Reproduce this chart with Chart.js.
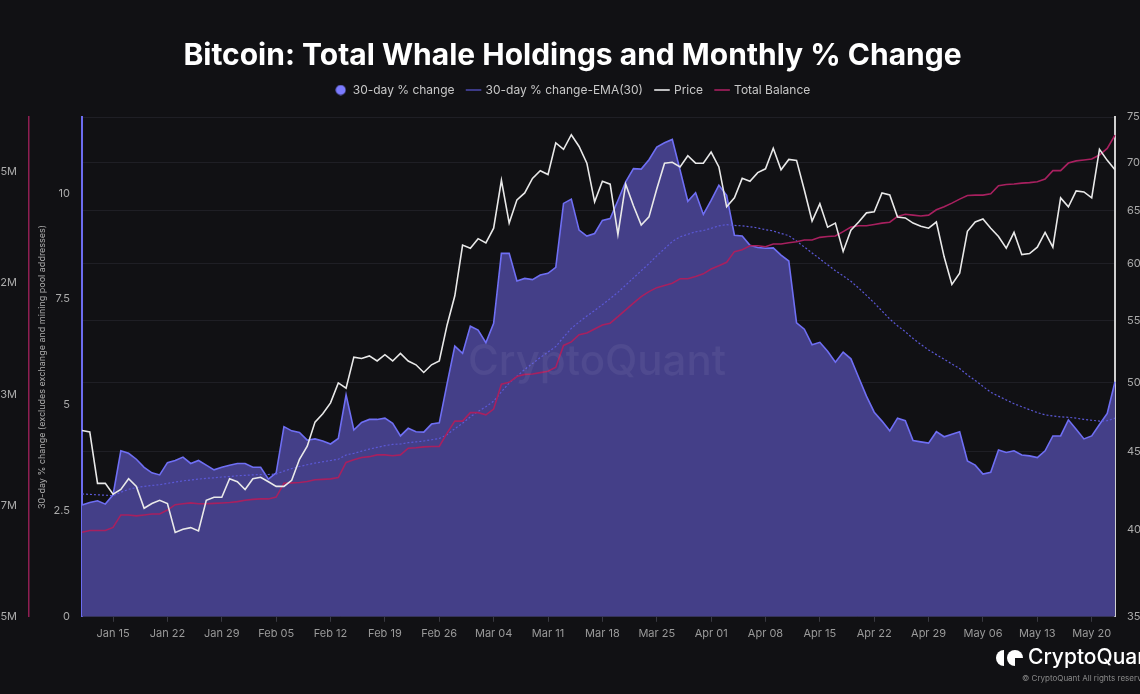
<!DOCTYPE html>
<html><head><meta charset="utf-8">
<script src="https://cdn.jsdelivr.net/npm/chart.js@4.4.1/dist/chart.umd.min.js"></script>
<style>
html,body{margin:0;padding:0;background:#111114;overflow:hidden;width:1140px;height:694px;}
#wrap{position:absolute;left:-30px;top:0;width:1200px;height:694px;}
</style></head><body>
<div id="wrap"><canvas id="c" width="1200" height="694"></canvas></div>
<script>
const OFF = 30;
const categories = [
"Jan 11","Jan 12","Jan 13","Jan 14","Jan 15","Jan 16","Jan 17","Jan 18","Jan 19","Jan 20","Jan 21","Jan 22","Jan 23","Jan 24","Jan 25","Jan 26","Jan 27","Jan 28","Jan 29","Jan 30","Jan 31",
"Feb 01","Feb 02","Feb 03","Feb 04","Feb 05","Feb 06","Feb 07","Feb 08","Feb 09","Feb 10","Feb 11","Feb 12","Feb 13","Feb 14","Feb 15","Feb 16","Feb 17","Feb 18","Feb 19","Feb 20","Feb 21","Feb 22","Feb 23","Feb 24","Feb 25","Feb 26","Feb 27","Feb 28","Feb 29",
"Mar 01","Mar 02","Mar 03","Mar 04","Mar 05","Mar 06","Mar 07","Mar 08","Mar 09","Mar 10","Mar 11","Mar 12","Mar 13","Mar 14","Mar 15","Mar 16","Mar 17","Mar 18","Mar 19","Mar 20","Mar 21","Mar 22","Mar 23","Mar 24","Mar 25","Mar 26","Mar 27","Mar 28","Mar 29","Mar 30","Mar 31",
"Apr 01","Apr 02","Apr 03","Apr 04","Apr 05","Apr 06","Apr 07","Apr 08","Apr 09","Apr 10","Apr 11","Apr 12","Apr 13","Apr 14","Apr 15","Apr 16","Apr 17","Apr 18","Apr 19","Apr 20","Apr 21","Apr 22","Apr 23","Apr 24","Apr 25","Apr 26","Apr 27","Apr 28","Apr 29","Apr 30",
"May 01","May 02","May 03","May 04","May 05","May 06","May 07","May 08","May 09","May 10","May 11","May 12","May 13","May 14","May 15","May 16","May 17","May 18","May 19","May 20","May 21","May 22","May 23"];
const weekTicks = ["Jan 15","Jan 22","Jan 29","Feb 05","Feb 12","Feb 19","Feb 26","Mar 04","Mar 11","Mar 18","Mar 25","Apr 01","Apr 08","Apr 15","Apr 22","Apr 29","May 06","May 13","May 20"];

const pctChange = [
2.64,2.70,2.74,2.66,2.88,3.92,3.86,3.72,3.53,3.40,
3.35,3.64,3.69,3.77,3.62,3.69,3.58,3.47,3.53,3.58,
3.62,3.62,3.53,3.53,3.25,3.40,4.49,4.39,4.35,4.17,
4.20,4.15,4.08,4.21,5.24,4.41,4.59,4.66,4.66,4.69,
4.57,4.27,4.45,4.37,4.36,4.55,4.58,5.50,6.39,6.22,
6.86,6.77,6.47,6.93,8.58,8.58,7.93,7.99,7.96,8.07,
8.11,8.25,9.76,9.86,9.13,8.99,9.05,9.36,9.40,9.83,
10.27,10.58,10.57,10.79,11.09,11.19,11.27,10.55,9.81,10.01,
9.50,9.83,10.19,9.95,9.01,8.99,8.77,8.72,8.70,8.71,
8.54,8.40,6.94,6.79,6.42,6.48,6.27,6.01,6.25,6.09,
5.65,5.21,4.83,4.62,4.39,4.69,4.63,4.16,4.13,4.10,
4.37,4.25,4.31,4.37,3.68,3.58,3.37,3.41,3.94,3.88,
3.92,3.82,3.80,3.76,3.92,4.27,4.27,4.65,4.43,4.20,
4.27,4.54,4.80,5.55];

const pctEma30 = [
2.90,2.89,2.88,2.87,2.86,2.94,3.01,3.05,3.08,3.10,
3.12,3.15,3.18,3.21,3.23,3.25,3.27,3.28,3.30,3.31,
3.33,3.34,3.35,3.36,3.36,3.37,3.44,3.50,3.55,3.59,
3.63,3.66,3.69,3.72,3.82,3.86,3.91,3.96,4.00,4.04,
4.07,4.08,4.11,4.13,4.15,4.18,4.21,4.30,4.44,4.57,
4.72,4.85,4.96,5.09,5.31,5.52,5.68,5.84,5.98,6.12,
6.25,6.38,6.60,6.81,6.96,7.10,7.23,7.37,7.51,7.66,
7.83,8.00,8.17,8.34,8.52,8.69,8.86,8.97,9.03,9.09,
9.12,9.17,9.23,9.26,9.24,9.23,9.21,9.18,9.14,9.11,
9.05,9.00,8.87,8.73,8.59,8.45,8.31,8.17,8.05,7.92,
7.76,7.59,7.41,7.22,7.03,6.87,6.73,6.57,6.43,6.30,
6.19,6.08,5.97,5.86,5.71,5.58,5.44,5.30,5.21,5.12,
5.03,4.96,4.89,4.82,4.77,4.74,4.72,4.71,4.69,4.66,
4.64,4.62,4.63,4.69];

const price = [
46500,46400,42900,42900,42200,42500,43200,42700,41300,41600,
41800,41600,39800,40000,40100,39900,41800,42000,42000,43200,
43000,42500,43200,43300,43000,42700,42700,43100,44500,45400,
47100,47700,48500,50000,49600,52000,51900,52100,51700,52200,
51700,52300,51700,51400,50800,51400,51700,54600,57100,61700,
61400,62300,61900,63300,68100,63800,66100,66800,68300,69100,
68700,72100,71400,73000,71700,69900,65900,68000,67700,62700,
67700,65500,63600,64400,67200,69900,70000,69500,70700,69900,
69900,71100,69500,65400,66300,68300,68000,68900,69300,71500,
69200,70300,70200,67100,64000,65700,63400,63800,61100,63100,
63900,64800,64900,66800,66600,64400,64300,63800,63500,63300,
63900,60600,58100,59100,63000,63900,64200,63300,62500,61400,
62900,60800,60900,61500,62900,61500,66300,65400,67000,66900,
66300,71400,70200,69200];

// Total whale balance, in millions of BTC
const totalBalance = [
12.690,12.694,12.694,12.694,12.701,12.729,12.729,12.727,12.729,12.731,
12.731,12.740,12.752,12.754,12.756,12.754,12.754,12.755,12.756,12.757,
12.759,12.762,12.764,12.765,12.765,12.769,12.800,12.801,12.802,12.804,
12.808,12.809,12.810,12.813,12.847,12.853,12.858,12.860,12.864,12.864,
12.862,12.864,12.879,12.880,12.882,12.883,12.883,12.913,12.940,12.940,
12.959,12.959,12.954,12.967,13.023,13.027,13.040,13.045,13.046,13.049,
13.052,13.061,13.110,13.118,13.134,13.138,13.147,13.156,13.160,13.175,
13.190,13.205,13.220,13.231,13.240,13.245,13.250,13.260,13.260,13.265,
13.271,13.282,13.289,13.297,13.321,13.325,13.334,13.334,13.332,13.338,
13.338,13.341,13.343,13.347,13.347,13.353,13.355,13.356,13.366,13.376,
13.379,13.379,13.382,13.385,13.387,13.400,13.405,13.403,13.401,13.403,
13.415,13.422,13.430,13.439,13.447,13.448,13.448,13.451,13.469,13.472,
13.473,13.475,13.476,13.478,13.484,13.503,13.503,13.520,13.525,13.527,
13.529,13.538,13.553,13.583];

const pctTicks = [0, 2.5, 5, 7.5, 10];
const balanceTicks = [12.5, 12.75, 13, 13.25, 13.5];
const priceTicks = [35000, 40000, 45000, 50000, 55000, 60000, 65000, 70000, 75000];

Chart.defaults.font.family = 'Inter, "Noto Sans", "DejaVu Sans", sans-serif';

const dot = document.createElement('canvas');
dot.width = 11; dot.height = 11;
(function(){ const g = dot.getContext('2d'); g.fillStyle = '#7b7bff'; g.beginPath(); g.arc(5.5,5.5,5,0,Math.PI*2); g.fill(); })();

const legendGap = {
  id: 'legendGap',
  afterInit(chart) {
    const fit = chart.legend.fit;
    chart.legend.fit = function() { fit.call(this); this.height += 11; };
  }
};

const decorations = {
  id: 'decorations',
  afterDatasetsDraw(chart) {
    const ctx = chart.ctx;
    ctx.save();
    ctx.font = '500 42px Inter, "Noto Sans", sans-serif';
    ctx.fillStyle = 'rgba(255,255,255,0.06)';
    ctx.textAlign = 'center';
    ctx.textBaseline = 'middle';
    ctx.fillText('CryptoQuant', 597 + OFF, 362);
    ctx.restore();
  },
  afterDraw(chart) {
    const ctx = chart.ctx;
    ctx.save();
    const cx = 1002 + OFF, cy = 658;
    ctx.fillStyle = '#ffffff';
    ctx.beginPath();
    ctx.arc(cx + 2, cy, 8, Math.PI/2, Math.PI*1.5);
    ctx.closePath();
    ctx.fill();
    ctx.beginPath();
    ctx.arc(cx + 13, cy, 8, 0, Math.PI*2);
    ctx.fill();
    ctx.fillStyle = '#111114';
    ctx.beginPath();
    ctx.moveTo(cx + 13, cy);
    ctx.lineTo(cx + 22, cy);
    ctx.lineTo(cx + 22, cy + 9);
    ctx.lineTo(cx + 13, cy + 9);
    ctx.closePath();
    ctx.fill();
    ctx.fillStyle = '#ffffff';
    ctx.font = '500 21px Inter, "Noto Sans", sans-serif';
    ctx.textBaseline = 'middle';
    ctx.textAlign = 'left';
    ctx.fillText('CryptoQuant', 1028 + OFF, 658);
    ctx.font = '8px Inter, "Noto Sans", sans-serif';
    ctx.fillStyle = '#8a8a8a';
    ctx.fillText('\u00A9 CryptoQuant All rights reserved', 1022 + OFF, 679);
    ctx.restore();
  }
};

new Chart(document.getElementById('c'), {
  type: 'line',
  data: {
    labels: categories,
    datasets: [
      { label: '30-day % change', data: pctChange, yAxisID: 'yPct', fill: 'start',
        backgroundColor: '#443f88', borderColor: '#6f6ff4', borderWidth: 1.6,
        pointRadius: 0, tension: 0, order: 4 },
      { label: '30-day % change-EMA(30)', data: pctEma30, yAxisID: 'yPct', fill: false,
        borderColor: '#5b58d6', borderWidth: 1.2, borderDash: [2, 2],
        pointRadius: 0, tension: 0, order: 3 },
      { label: 'Price', data: price, yAxisID: 'yPrice', fill: false,
        borderColor: '#e9e9e9', borderWidth: 1.6, pointRadius: 0, tension: 0, order: 1 },
      { label: 'Total Balance', data: totalBalance, yAxisID: 'yBal', fill: false,
        borderColor: '#a8205f', borderWidth: 1.6, pointRadius: 0, tension: 0, order: 2 }
    ]
  },
  options: {
    responsive: false,
    animation: false,
    devicePixelRatio: 1,
    layout: { padding: { top: 41, left: 15, right: 10, bottom: 49 } },
    interaction: { mode: 'index', intersect: false },
    plugins: {
      tooltip: { enabled: false },
      title: { display: true, text: 'Bitcoin: Total Whale Holdings and Monthly % Change',
        color: '#ffffff', font: { size: 30, weight: 'bold', lineHeight: 1.0 },
        padding: { top: 0, bottom: 0 } },
      legend: { display: true, position: 'top',
        labels: { usePointStyle: true, boxHeight: 11, padding: 13, color: '#c8c8c8',
          font: { size: 12 },
          generateLabels(chart) {
            const items = Chart.defaults.plugins.legend.labels.generateLabels(chart);
            items.sort((a, b) => a.datasetIndex - b.datasetIndex);
            items.forEach((it) => { it.pointStyle = it.datasetIndex === 0 ? dot : 'line'; });
            return items;
          } } }
    },
    scales: {
      x: { type: 'category', offset: false,
        grid: { display: true, drawOnChartArea: false, drawTicks: true, tickLength: 5,
          color: (c) => weekTicks.includes(categories[c.index]) ? '#3a3a42' : 'rgba(0,0,0,0)' },
        border: { display: true, color: '#2c2c36', width: 1 },
        ticks: { autoSkip: false, maxRotation: 0, color: '#9a9a9a', font: { size: 11 }, padding: 5,
          callback: function(v) { const l = categories[v]; return weekTicks.includes(l) ? l : ''; } } },
      yPct: { position: 'left', weight: 0, min: 0, max: 11.8,
        afterBuildTicks: (s) => { s.ticks = pctTicks.map(v => ({ value: v })); },
        afterFit: (s) => { s.width = 53; },
        grid: { drawOnChartArea: false, drawTicks: false },
        border: { display: true, color: '#6c6cf0', width: 2 },
        ticks: { color: '#ababab', font: { size: 11 }, padding: 12, callback: (v) => String(v) },
        title: { display: true, text: '30-day % change (excludes exchange and mining pool addresses)',
          color: '#ababab', font: { size: 9 }, padding: { top: 8, bottom: 4 } } },
      yBal: { position: 'left', weight: 1, min: 12.5, max: 13.6236,
        afterBuildTicks: (s) => { s.ticks = balanceTicks.map(v => ({ value: v })); },
        afterFit: (s) => { s.width = 44; },
        grid: { drawOnChartArea: false, drawTicks: false },
        border: { display: true, color: '#8f1e52', width: 1.5 },
        ticks: { color: '#ababab', font: { size: 11 }, padding: 12,
          callback: (v) => (Math.floor(v * 10 + 1e-6) / 10) + 'M' } },
      yPrice: { type: 'logarithmic', position: 'right', min: 35000, max: 75000,
        afterBuildTicks: (s) => { s.ticks = priceTicks.map(v => ({ value: v })); },
        afterFit: (s) => { s.width = 45; },
        grid: { color: '#1f1f25', drawTicks: false },
        border: { display: true, color: '#d0d0d0', width: 2 },
        ticks: { color: '#ababab', font: { size: 11 }, padding: 12, callback: (v) => String(v) } }
    }
  },
  plugins: [legendGap, decorations]
});
</script>
</body></html>
